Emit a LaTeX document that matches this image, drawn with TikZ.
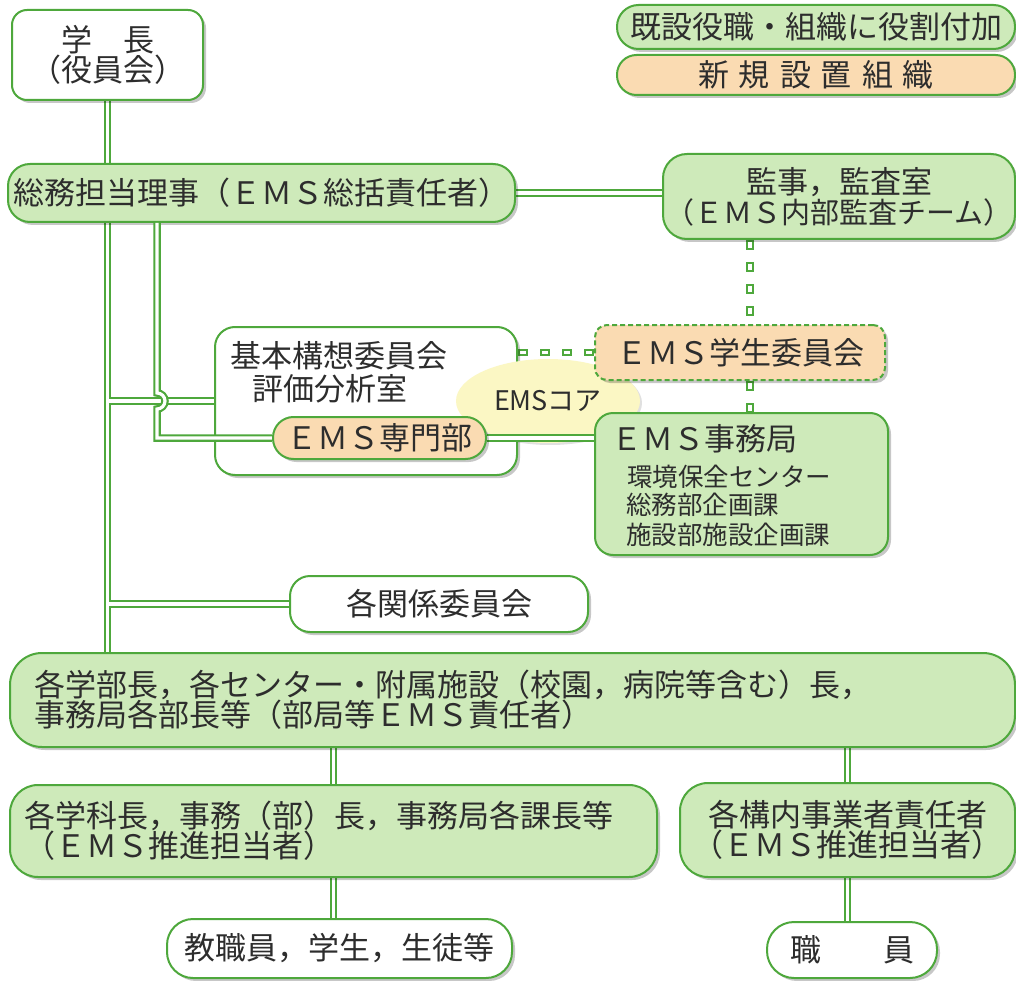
\documentclass[tikz,border=0pt]{standalone}
\usepackage{fontspec}
\setmainfont{Noto Sans CJK JP}
\usetikzlibrary{shadows,calc,shapes.geometric}
\definecolor{bgreen}{RGB}{78,168,60}
\definecolor{lgreen}{RGB}{206,234,186}
\definecolor{peach}{RGB}{250,219,178}
\definecolor{cream}{RGB}{251,247,196}
\definecolor{txt}{RGB}{45,45,45}
\pgfdeclarelayer{back}
\pgfdeclarelayer{mid}
\pgfdeclarelayer{front}
\pgfsetlayers{back,main,mid,front}
\tikzset{
  every node/.style={font=\fontsize{31}{30}\selectfont, text=txt},
  box/.style={draw=bgreen, line width=2pt, rounded corners=#1, inner sep=0pt,
    drop shadow={shadow xshift=3pt, shadow yshift=-3pt, opacity=0.22, fill=black}},
  box/.default=20pt,
  gbox/.style={box=#1, fill=lgreen}, gbox/.default=20pt,
  wbox/.style={box=#1, fill=white}, wbox/.default=20pt,
  pbox/.style={box=#1, fill=peach}, pbox/.default=20pt,
  conout/.style={draw=bgreen, line width=7.5pt},
  conin/.style={draw=white, line width=3.2pt},
  dashout/.style={draw=bgreen, line width=7.5pt, dash pattern=on 10pt off 12pt},
  dashin/.style={draw=white, line width=3.4pt, dash pattern=on 0pt off 2pt on 6pt off 14pt},
  dconn/.style={draw=bgreen, line width=2.15pt, double=white, double distance=3.2pt},
}
\newcommand\trunkpaths[1]{%
  \draw[#1] (gakucho.south) -- (gakucho.south |- somu.north);
  \draw[#1] (gakucho.south |- somu.south) -- (gakucho.south |- gakumbu.north);
  \draw[#1] (gakucho.south |- kihon.west) -- (kihon.west);
  \draw[#1] (gakucho.south |- kankei.west) -- (kankei.west);
  \draw[#1] (somu.east) -- (somu.east -| kanji.west);
  \draw[#1] (gakumbu.south -| gakka.north) -- (gakka.north);
  \draw[#1] (gakka.south) -- (gakka.south |- kyoshoku.north);
  \draw[#1] (gakumbu.south -| konai.north) -- (konai.north);
  \draw[#1] (konai.south) -- (konai.south |- shokuin.north);}
\newcommand\dashpaths[1]{%
  \draw[#1] (kihon.east |- gakusei.west) -- (gakusei.west);
  \draw[#1] (kanji.south -| dx) -- (gakusei.north -| dx);
  \draw[#1] (gakusei.south -| dx) -- (jimu.north -| dx);}
\begin{document}
\begin{tikzpicture}[x=1pt,y=-1pt]
\useasboundingbox (0,0) rectangle (1016,981);
\coordinate (hx) at (157,0);
\coordinate (dx) at (750,0);

% main layer nodes
\node[wbox=15pt, minimum width=191pt, minimum height=90pt, align=center] (gakucho) at (107.5,55) {学　長\\（役員会）};
\node[gbox=21.5pt, minimum width=398pt, minimum height=44pt] (leg1) at (816,27) {既設役職・組織に役割付加};
\node[pbox=19.5pt, minimum width=398pt, minimum height=40pt] (leg2) at (816,75) {新\hspace{10pt}規\hspace{10pt}設\hspace{10pt}置\hspace{10pt}組\hspace{10pt}織};
\node[gbox=22pt, minimum width=507pt, minimum height=58pt] (somu) at (261.5,193) {総務担当理事（ＥＭＳ総括責任者）};
\node[gbox=24pt, minimum width=352pt, minimum height=85pt, align=center] (kanji) at (839,196.5) {監事，監査室\\{\fontsize{29}{30}\selectfont（ＥＭＳ内部監査チーム）}};
\node[wbox=20pt, inner xsep=15pt, text width=272pt, align=left, text height=40pt, text depth=108pt, font=\fontsize{31}{33}\selectfont] (kihon) at (366,401) {基本構想委員会\\\hspace*{22pt}評価分析室};
\node[ellipse, fill=cream, minimum width=184pt, minimum height=84pt, inner sep=0pt, font=\fontsize{27}{27}\selectfont, drop shadow={shadow xshift=2pt, shadow yshift=-2pt, opacity=0.12, fill=black}] (core) at (548,401) {EMSコア};
\node[wbox=20pt, minimum width=298pt, minimum height=56pt] (kankei) at (439,604) {各関係委員会};
\node[gbox=32pt, minimum width=1005pt, minimum height=94pt, inner xsep=24pt, text width=957pt, align=left] (gakumbu) at (512.5,700) {各学部長，各センター・附属施設（校園，病院等含む）長，\\事務局各部長等（部局等ＥＭＳ責任者）};
\node[gbox=28pt, minimum width=647pt, minimum height=92pt, inner xsep=14pt, text width=619pt, align=left] (gakka) at (333.5,831) {各学科長，事務（部）長，事務局各課長等\\（ＥＭＳ推進担当者）};
\node[gbox=28pt, minimum width=335pt, minimum height=94pt, align=center] (konai) at (847.5,830) {各構内事業者責任者\\（ＥＭＳ推進担当者）};
\node[wbox=26pt, minimum width=345pt, minimum height=59pt] (kyoshoku) at (339.5,948.5) {教職員，学生，生徒等};
\node[wbox=27pt, minimum width=170pt, minimum height=56pt] (shokuin) at (852,950) {職　　員};

\begin{pgfonlayer}{front}
\node[pbox=20.5pt, minimum width=213pt, minimum height=42pt] (senmon) at (379.5,438) {ＥＭＳ専門部};
\node[pbox=12pt, dash pattern=on 5pt off 3pt, minimum width=290pt, minimum height=55pt] (gakusei) at (740,352.5) {ＥＭＳ学生委員会};
\node[gbox=18pt, inner xsep=16pt, text width=261pt, align=left, text height=37pt, text depth=105pt] (jimu) at (741.5,484) {{\fontsize{31}{28}\selectfont ＥＭＳ事務局}\\[8.7pt]\fontsize{25.5}{28}\selectfont\hspace*{16pt}環境保全センター\\\hspace*{15pt}総務部企画課\\\hspace*{15pt}施設部施設企画課};
\end{pgfonlayer}

\begin{pgfonlayer}{mid}
\draw[dconn] (somu.south -| hx) -- ($(kihon.west -| hx)+(0,-8)$) arc[start angle=-90, end angle=90, radius=8] -- (senmon.west -| hx) -- (senmon.west);
\draw[dconn] (senmon.east) -- (senmon.east -| jimu.west);
\end{pgfonlayer}

\begin{pgfonlayer}{back}
\fill[white] (0,0) rectangle (1016,981);
\trunkpaths{conout}
\trunkpaths{conin}
\dashpaths{dashout}
\dashpaths{dashin}
\end{pgfonlayer}
\end{tikzpicture}
\end{document}
